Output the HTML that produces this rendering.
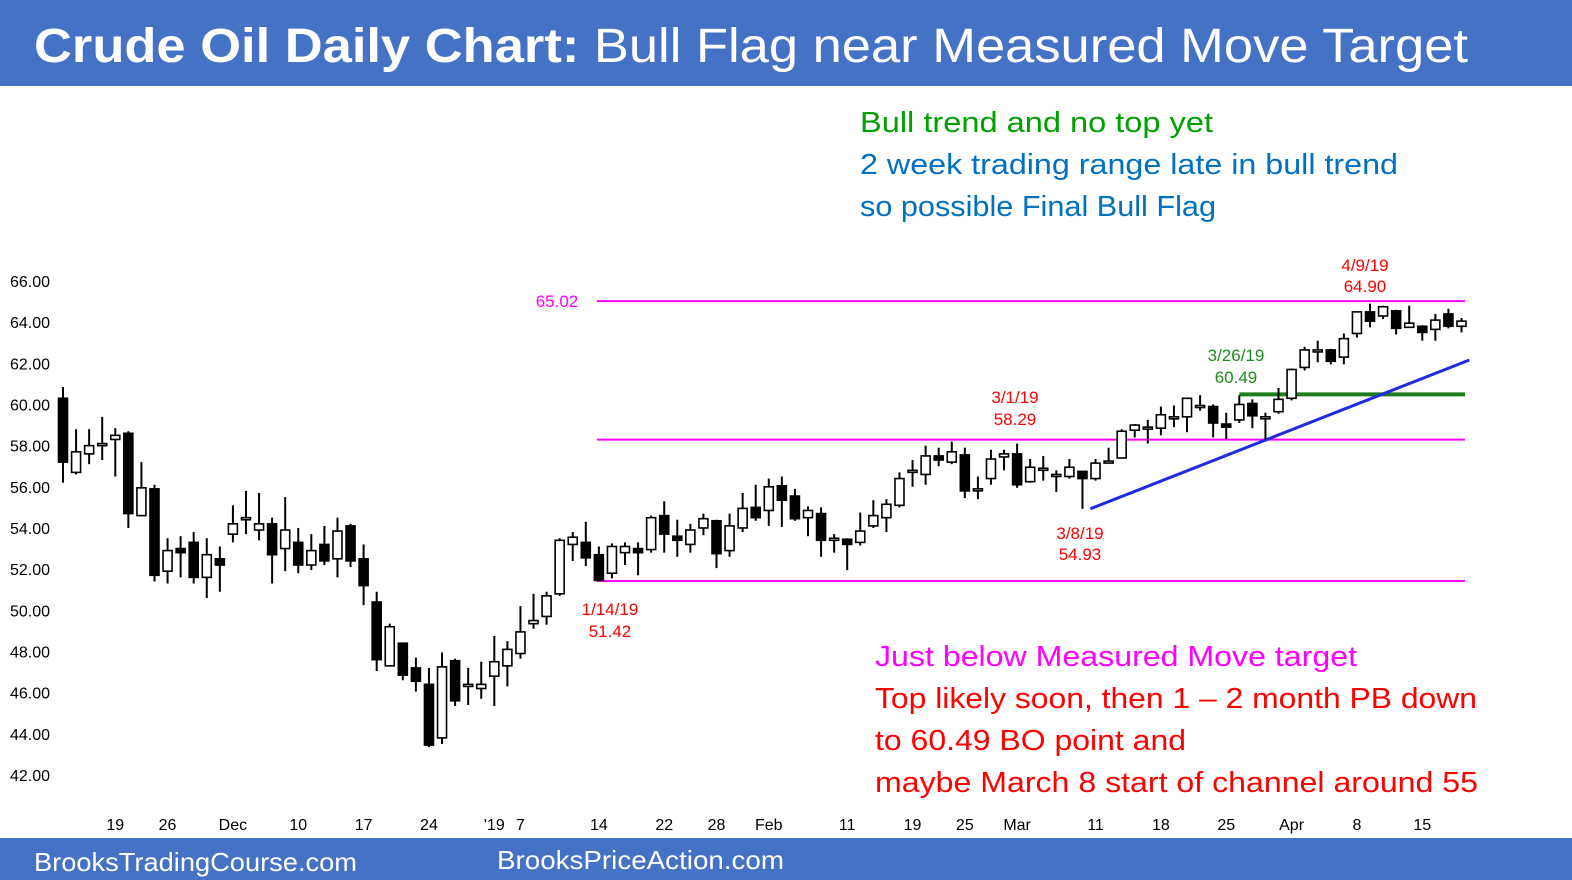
<!DOCTYPE html>
<html><head><meta charset="utf-8"><style>
body{margin:0;width:1572px;height:880px;overflow:hidden;background:#fff;font-family:"Liberation Sans",Arial,sans-serif}
svg{display:block}
</style></head><body>
<svg id="chart" width="1572" height="880" xmlns="http://www.w3.org/2000/svg">
<rect x="0" y="0" width="1572" height="86" fill="#4472C4"/>
<text x="34" y="62" fill="#fff" font-size="48" textLength="1434" lengthAdjust="spacingAndGlyphs" font-family="Liberation Sans, sans-serif"><tspan font-weight="bold">Crude Oil Daily Chart:</tspan> Bull Flag near Measured Move Target</text>
<rect x="0" y="838" width="1572" height="42" fill="#4472C4"/>
<text x="34" y="871" fill="#fff" font-size="26" textLength="323" lengthAdjust="spacingAndGlyphs">BrooksTradingCourse.com</text>
<text x="497" y="869" fill="#fff" font-size="26" textLength="287" lengthAdjust="spacingAndGlyphs">BrooksPriceAction.com</text>
<g id="yaxis"></g>
<g id="xaxis"></g>
<g id="levels"></g>
<g id="candles"></g>
<g font-size="29" font-family="Liberation Sans, sans-serif" lengthAdjust="spacingAndGlyphs">
<text x="860" y="132" fill="#00A000" textLength="353" lengthAdjust="spacingAndGlyphs">Bull trend and no top yet</text>
<text x="860" y="174" fill="#0070C0" textLength="538" lengthAdjust="spacingAndGlyphs">2 week trading range late in bull trend</text>
<text x="860" y="216" fill="#0070C0" textLength="356" lengthAdjust="spacingAndGlyphs">so possible Final Bull Flag</text>
<text x="875" y="666" fill="#FF00FF" textLength="482" lengthAdjust="spacingAndGlyphs">Just below Measured Move target</text>
<text x="875" y="708" fill="#FF0000" textLength="602" lengthAdjust="spacingAndGlyphs">Top likely soon, then 1 – 2 month PB down</text>
<text x="875" y="750" fill="#FF0000" textLength="311" lengthAdjust="spacingAndGlyphs">to 60.49 BO point and</text>
<text x="875" y="792" fill="#FF0000" textLength="603" lengthAdjust="spacingAndGlyphs">maybe March 8 start of channel around 55</text>
</g>
<g font-size="17" text-anchor="middle">
<text x="557" y="307" fill="#FF00FF">65.02</text>
<text x="1365" y="271" fill="#FF0000">4/9/19</text>
<text x="1365" y="292" fill="#FF0000">64.90</text>
<text x="1236" y="361" fill="#1E8C1E">3/26/19</text>
<text x="1236" y="383" fill="#1E8C1E">60.49</text>
<text x="1015" y="403" fill="#FF0000">3/1/19</text>
<text x="1015" y="425" fill="#FF0000">58.29</text>
<text x="1080" y="539" fill="#FF0000">3/8/19</text>
<text x="1080" y="560" fill="#FF0000">54.93</text>
<text x="610" y="615" fill="#FF0000">1/14/19</text>
<text x="610" y="637" fill="#FF0000">51.42</text>
</g>
</svg>
<script>
const opens=[60.3,56.7,57.6,58.0,58.3,58.6,54.6,55.9,51.9,53.0,53.3,51.6,52.5,53.7,54.4,53.9,54.2,53.0,53.3,52.2,53.2,52.5,54.1,52.5,50.4,47.3,48.4,47.2,46.4,43.8,47.55,46.3,46.2,46.8,47.3,47.9,49.35,49.7,50.8,53.2,53.3,52.7,51.8,52.8,53.0,52.95,54.6,53.6,53.2,54.0,54.35,52.9,54.0,55.0,54.85,56.05,55.55,54.5,54.7,53.4,53.45,53.3,54.1,54.5,55.1,56.8,56.6,57.5,57.2,57.55,55.9,56.4,57.45,57.6,56.25,56.85,56.6,56.5,56.75,56.4,57.2,57.4,58.75,58.85,58.85,59.4,59.4,59.95,59.9,59.05,59.25,60.05,59.4,59.65,60.3,61.8,62.65,62.65,62.3,63.45,64.5,64.3,64.55,63.75,63.8,63.65,64.4,63.8];
const highs=[60.85,58.8,58.8,59.4,58.85,58.7,57.2,56.1,53.5,53.6,53.8,53.5,53.1,55.1,55.8,55.7,54.5,55.5,54.0,53.7,54.1,54.5,54.2,53.2,50.9,49.35,48.4,47.7,47.2,47.95,47.65,47.2,47.5,48.75,48.5,50.2,50.8,50.9,53.5,53.8,54.3,53.1,53.25,53.3,53.3,54.6,55.3,54.4,54.2,54.7,54.4,54.7,55.7,56.1,56.4,56.5,55.9,55.05,55.0,53.7,53.5,54.75,55.35,55.4,56.7,57.3,58.0,57.9,58.2,57.9,56.5,57.8,57.8,58.1,57.35,57.5,56.8,57.35,56.75,57.35,57.9,58.8,59.05,59.25,59.9,59.95,60.3,60.45,60.0,59.6,60.45,60.25,59.6,60.8,61.75,62.8,63.1,62.7,63.45,64.5,64.9,64.8,64.6,64.8,63.85,64.4,64.65,64.2];
const lows=[56.2,56.6,57.1,57.3,56.5,54.0,54.6,51.4,51.3,51.6,51.3,50.6,50.9,53.3,53.7,53.4,51.3,51.9,51.8,51.95,52.2,51.6,52.1,50.25,47.05,47.3,46.6,46.05,43.35,43.5,45.35,45.4,45.7,45.35,46.3,47.65,49.1,49.3,50.7,52.4,52.15,51.42,51.55,52.2,51.7,52.8,52.8,52.6,52.8,53.65,52.05,52.6,53.8,54.35,54.1,54.05,54.35,53.6,52.6,52.8,51.95,53.15,54.0,53.8,55.0,56.0,56.1,57.0,57.1,55.45,55.4,56.1,56.8,55.95,56.2,56.3,55.75,56.4,54.93,56.3,57.15,57.4,58.4,58.1,58.5,58.9,58.65,59.7,58.4,58.3,59.1,58.85,58.3,59.55,60.2,61.65,62.05,61.95,61.95,63.25,63.75,64.15,63.4,63.75,63.1,63.1,63.7,63.5];
const closes=[57.2,57.7,58.0,58.1,58.5,54.7,55.95,51.7,52.9,52.8,51.6,52.7,52.2,54.2,54.5,54.2,52.7,53.9,52.2,52.9,52.4,53.85,52.4,51.2,47.6,49.2,46.85,46.55,43.45,47.25,45.6,46.4,46.4,47.5,48.1,48.95,49.5,50.7,53.4,53.55,52.55,51.45,53.1,53.1,52.8,54.5,53.7,53.4,53.9,54.45,52.75,54.1,54.95,54.5,56.0,55.35,54.45,54.85,53.4,53.5,53.2,53.85,54.6,55.15,56.4,56.8,57.5,57.3,57.7,55.8,55.9,57.35,57.6,56.1,56.95,56.9,56.6,56.95,56.4,57.15,57.25,58.7,59.0,58.9,59.5,59.4,60.3,59.95,59.1,58.9,60.0,59.45,59.4,60.25,61.7,62.65,62.65,62.1,63.2,64.5,64.05,64.75,63.7,63.95,63.5,64.1,63.8,64.05];
const yTicks=[66,64,62,60,58,56,54,52,50,48,46,44,42];
const xTickLabels=["19","26","Dec","10","17","24","'19","7","14","22","28","Feb","11","19","25","Mar","11","18","25","Apr","8","15"];
const xTickIndex=[4,8,13,18,23,28,33,35,41,46,50,54,60,65,69,73,79,84,89,94,99,104];
const levelValues=[65.02,58.29,51.42];
const breakoutLevel=60.49;
const trendStart=[78.6,54.93];
const trendEnd=[107.6,62.16];

const NS="http://www.w3.org/2000/svg";
const y=v=>281+(66-v)*20.58;
const x=i=>63+i*13.07;
function mk(tag,attrs,parent){const e=document.createElementNS(NS,tag);for(const k in attrs)e.setAttribute(k,attrs[k]);parent.appendChild(e);return e;}
const ya=document.getElementById('yaxis');
yTicks.forEach(v=>{const t=mk('text',{x:50,y:y(v)+6,'text-anchor':'end','font-size':16,fill:'#000'},ya);t.textContent=v.toFixed(2);

});
const xa=document.getElementById('xaxis');
xTickLabels.forEach((l,k)=>{const t=mk('text',{x:x(xTickIndex[k]),y:830,'text-anchor':'middle','font-size':16,fill:'#000'},xa);t.textContent=l;

});
const lv=document.getElementById('levels');
levelValues.forEach(v=>{const l=mk('line',{x1:597,x2:1465,y1:y(v),y2:y(v),stroke:'#FF00FF','stroke-width':2},lv);

});
const g=mk('line',{x1:x(90),x2:1465,y1:y(breakoutLevel),y2:y(breakoutLevel),stroke:'#1E7D1E','stroke-width':4},lv);


const tl=mk('line',{x1:x(trendStart[0]),y1:y(trendStart[1]),x2:x(trendEnd[0]),y2:y(trendEnd[1]),stroke:'#1F2BE0','stroke-width':3},lv);


const cg=document.getElementById('candles');
opens.forEach((o,i)=>{const c=closes[i],cx=x(i);
const w=mk('line',{x1:cx,x2:cx,y1:y(highs[i]),y2:y(lows[i]),stroke:'#000','stroke-width':2},cg);


const top=y(Math.max(o,c)),h=Math.max(2,y(Math.min(o,c))-top);
const r=mk('rect',{x:cx-4.5,y:top,width:9,height:h,fill:c<o?'#000':'#fff',stroke:'#000','stroke-width':1.6},cg);

});
</script>
</body></html>
